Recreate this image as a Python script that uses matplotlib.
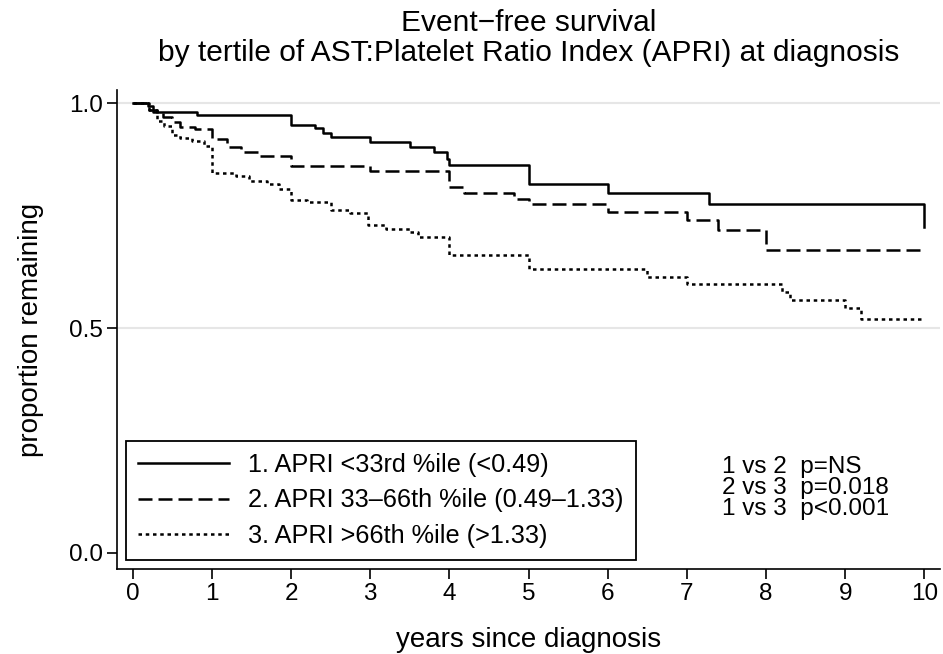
import matplotlib
matplotlib.use('Agg')
import matplotlib.pyplot as plt

plt.rcParams['font.family'] = ['Liberation Sans', 'DejaVu Sans']

# step times (years) and survival for each APRI tertile
t1 = [0, 0.19, 0.25, 0.81, 2.0, 2.3, 2.4, 2.5, 3.0, 3.5, 3.8, 3.97, 4.0, 5.0, 6.0, 7.28, 10.0]
s1 = [1.0, 0.993, 0.98, 0.973, 0.951, 0.944, 0.933, 0.924, 0.913, 0.902, 0.891, 0.876, 0.862, 0.82, 0.80, 0.776, 0.724]

t2 = [0, 0.2, 0.3, 0.38, 0.49, 0.6, 0.78, 1.0, 1.19, 1.37, 1.6, 2.0, 3.0, 4.0, 4.19, 4.82, 5.0, 6.0, 7.0, 7.39, 8.0, 9.95]
s2 = [1.0, 0.985, 0.978, 0.969, 0.958, 0.947, 0.942, 0.92, 0.902, 0.891, 0.882, 0.86, 0.849, 0.813, 0.80, 0.787, 0.776, 0.758, 0.74, 0.718, 0.673, 0.673]

t3 = [0, 0.2, 0.3, 0.4, 0.49, 0.6, 0.75, 0.9, 1.0, 1.3, 1.47, 1.7, 1.85, 2.0, 2.2, 2.5, 2.75, 2.97, 3.2, 3.5, 3.6,
      4.0, 5.0, 6.5, 7.0, 8.2, 8.3, 9.0, 9.2, 10.0]
s3 = [1.0, 0.985, 0.96, 0.95, 0.929, 0.922, 0.915, 0.905, 0.844, 0.838, 0.827, 0.82, 0.81, 0.784, 0.78, 0.762, 0.757, 0.729,
      0.72, 0.713, 0.702, 0.662, 0.631, 0.613, 0.598, 0.58, 0.562, 0.544, 0.52, 0.52]

labels = ['1. APRI <33rd %ile (<0.49)',
          '2. APRI 33\u201366th %ile (0.49\u20131.33)',
          '3. APRI >66th %ile (>1.33)']
pvals = ['1 vs 2  p=NS', '2 vs 3  p=0.018', '1 vs 3  p<0.001']

fig = plt.figure(figsize=(9.43, 6.54), dpi=100)
ax = fig.add_axes([0.124, 0.130, 0.873, 0.732])

for yv in [0.5, 1.0]:
    ax.axhline(yv, color='#e6e6e6', lw=1.5, zorder=0)

lw = 1.8
ax.step(t1, s1, where='post', color='black', lw=lw, label=labels[0])
ax.step(t2, s2, where='post', color='black', lw=lw, dashes=(5.6, 2.4), label=labels[1])
ax.step(t3, s3, where='post', color='black', lw=lw, dashes=(1.4, 1.5), label=labels[2])

ax.set_xlim(-0.2, 10.2)
ax.set_ylim(-0.036, 1.029)
ax.set_xticks(range(0, 11))
ax.set_yticks([0.0, 0.5, 1.0])
ax.set_yticklabels(['0.0', '0.5', '1.0'])
ax.tick_params(labelsize=17.5, length=7, width=1.2, direction='out', pad=3)
for side in ['top', 'right']:
    ax.spines[side].set_visible(False)
for side in ['left', 'bottom']:
    ax.spines[side].set_linewidth(1.2)

ax.set_xlabel('years since diagnosis', fontsize=20, labelpad=16)
ax.set_ylabel('proportion remaining', fontsize=20, labelpad=18)
ax.set_title('Event\u2212free survival\nby tertile of AST:Platelet Ratio Index (APRI) at diagnosis',
             fontsize=21.5, pad=21, linespacing=1.1)

leg = ax.legend(loc='lower left', bbox_to_anchor=(0.0, 0.0), fontsize=18.2, frameon=True,
                fancybox=False, edgecolor='black', framealpha=1, handlelength=3.6, borderpad=0.48,
                labelspacing=0.45, handletextpad=0.76, borderaxespad=0.36)
leg.get_frame().set_linewidth(1.3)

ax.text(7.45, 0.215, '\n'.join(pvals), fontsize=17.5, va='top', ha='left', linespacing=0.95)

fig.savefig('out.png', dpi=100)
